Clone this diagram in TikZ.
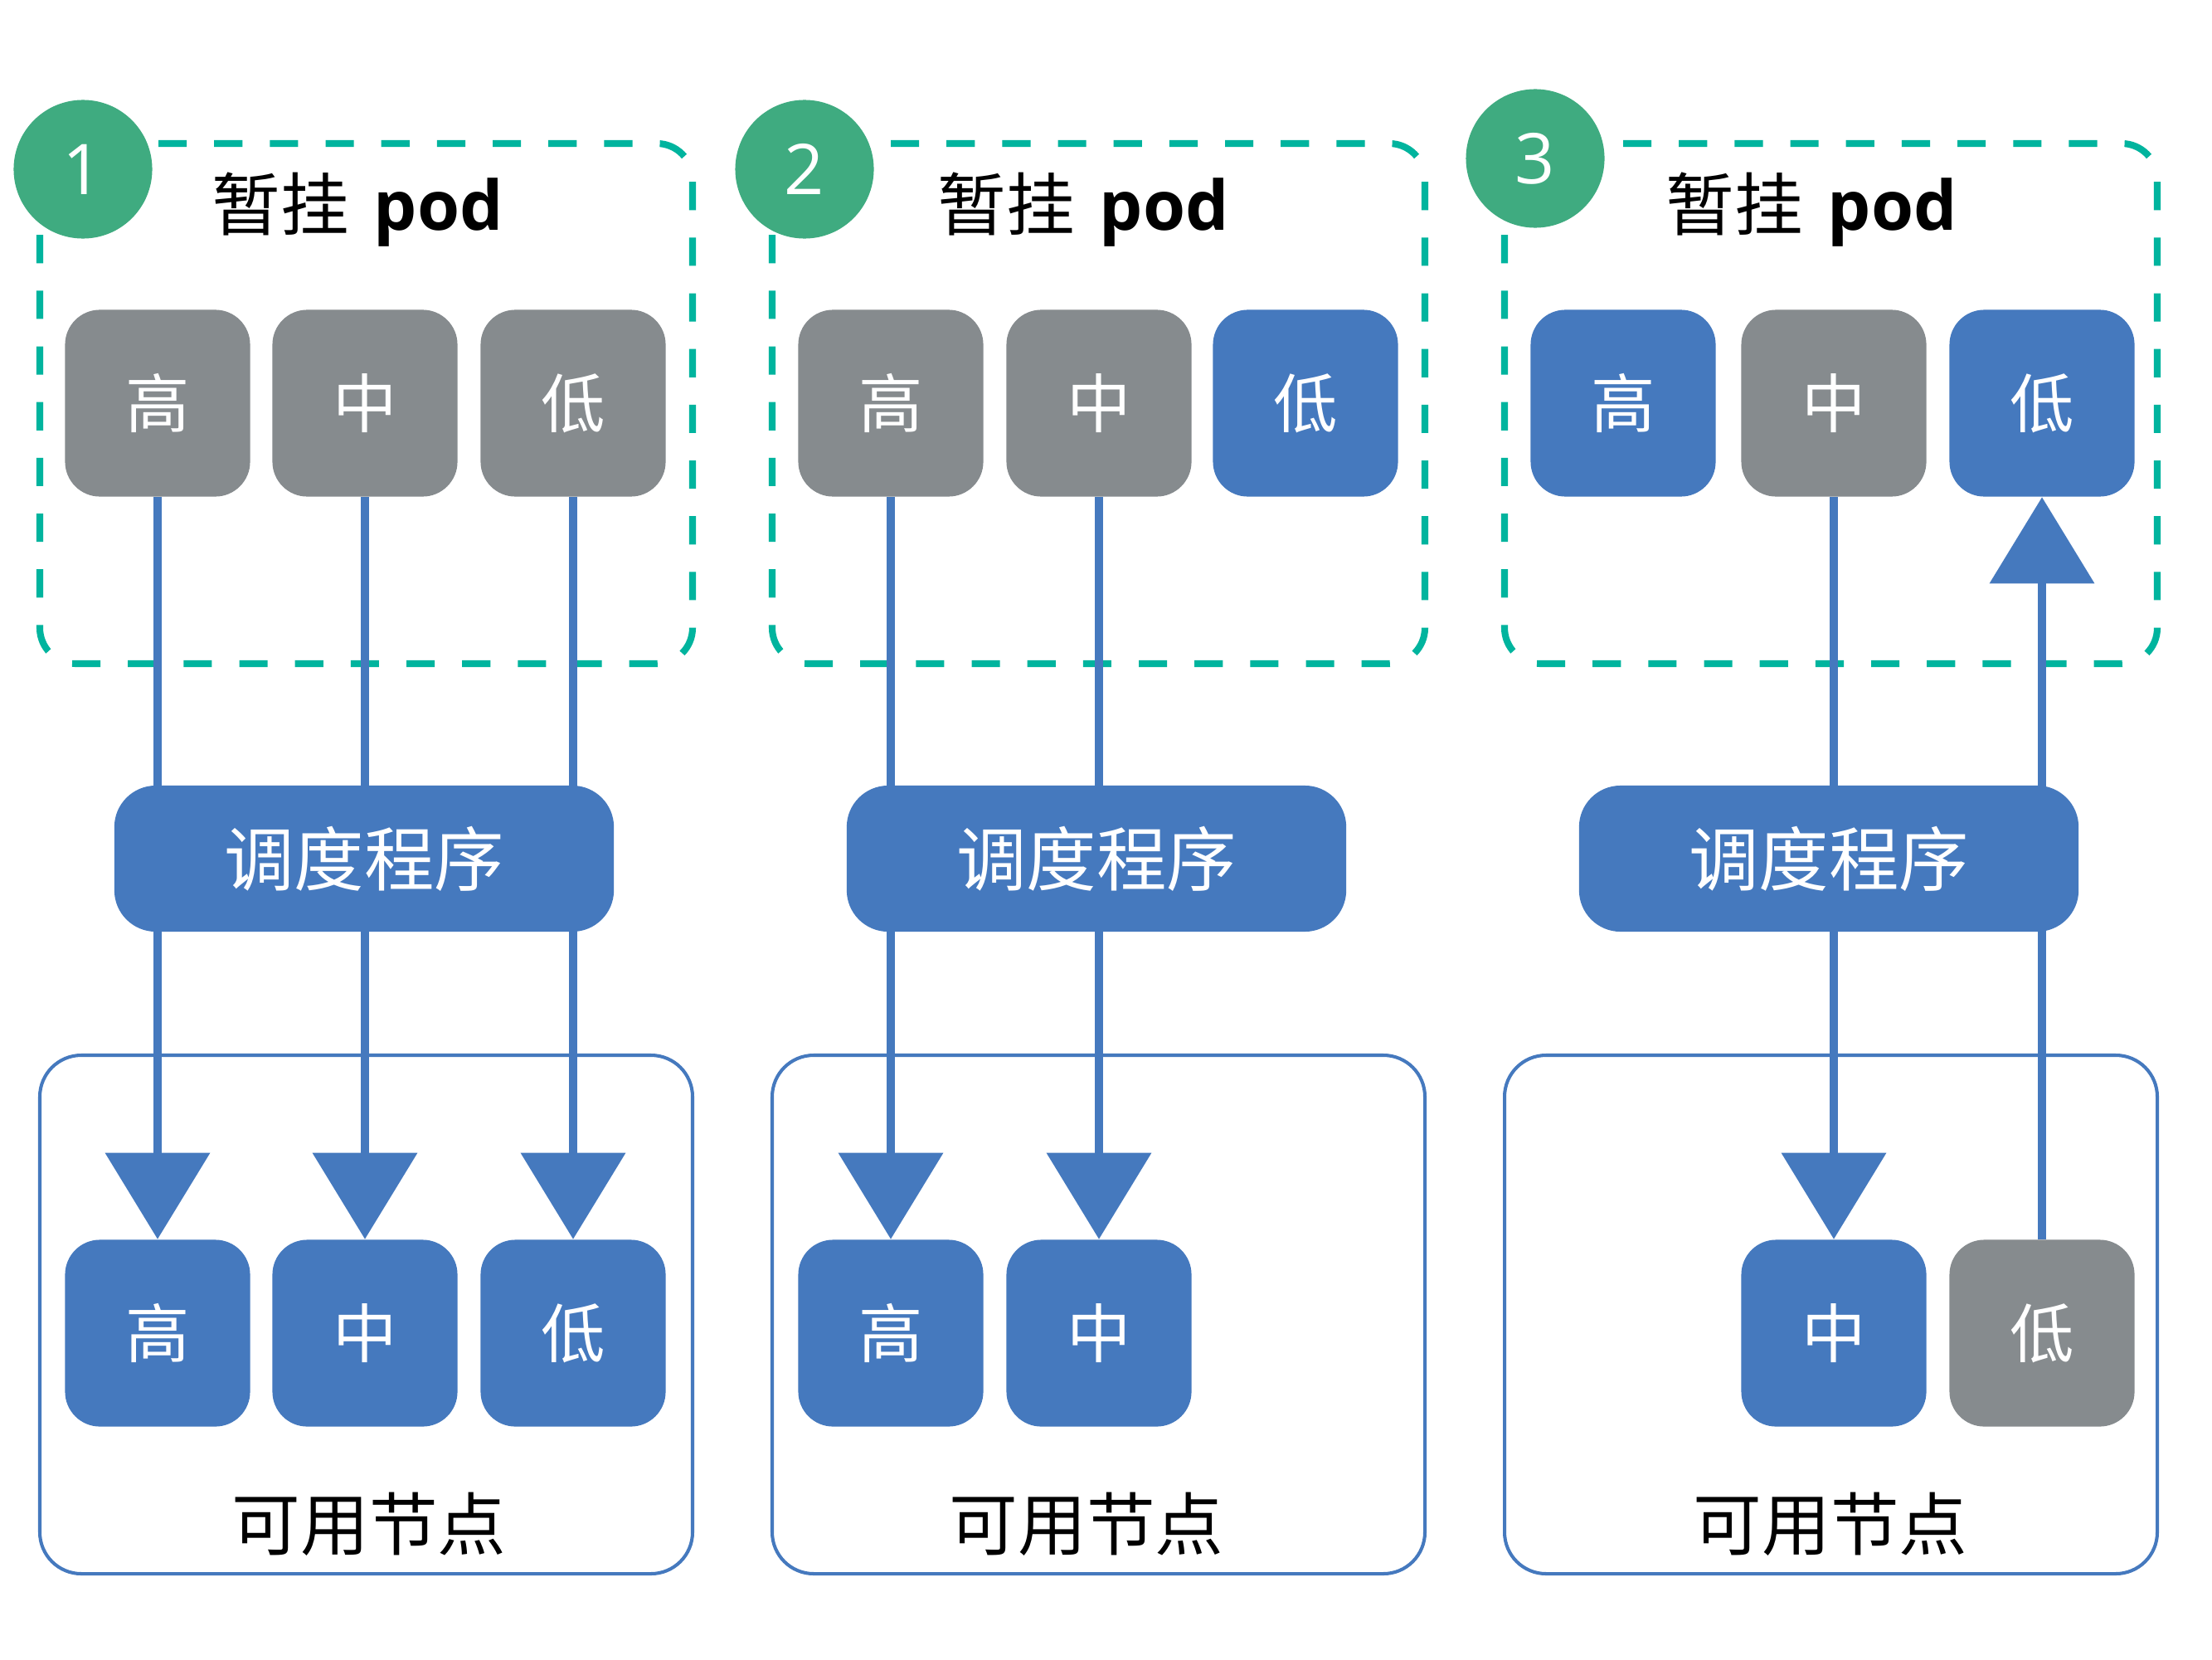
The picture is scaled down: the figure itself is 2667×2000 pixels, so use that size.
\documentclass[tikz,border=0pt]{standalone}
\usepackage{fontspec}
\setmainfont{Open Sans}
\newfontfamily\cjk{Noto Sans CJK SC}
\usetikzlibrary{arrows.meta}
\definecolor{podblue}{HTML}{4579BE}
\definecolor{podgray}{HTML}{868B8E}
\definecolor{badgegreen}{HTML}{3FAB80}
\definecolor{dashteal}{HTML}{00B49E}
\newcommand\mypodfont{\cjk\fontsize{22pt}{26pt}\selectfont}
\newcommand\myschedfont{\cjk\fontsize{24pt}{28pt}\selectfont}
\newcommand\mytitlefont{\fontsize{23.5pt}{28pt}\selectfont}
\newcommand\mynodesfont{\cjk\fontsize{23.5pt}{28pt}\selectfont}
\newcommand\mybadgefont{\fontsize{24pt}{28pt}\selectfont}
\begin{document}
\begin{tikzpicture}[x=0.01cm,y=-0.01cm,
  pod/.style={rounded corners=0.42cm, minimum width=2.23cm, minimum height=2.25cm, inner sep=0pt, text=white, font=\mypodfont},
  gpod/.style={pod, fill=podgray},
  bpod/.style={pod, fill=podblue},
  sched/.style={fill=podblue, rounded corners=0.5cm, minimum width=6.02cm, minimum height=1.76cm, inner sep=0pt, text=white, font=\myschedfont},
  pending/.style={draw=dashteal, line width=2.3pt, dash pattern=on 9.7pt off 9.4pt, rounded corners=0.43cm},
  nodesbox/.style={draw=podblue, line width=1.15pt, rounded corners=0.5cm},
  badge/.style={circle, fill=badgegreen, minimum size=1.67cm, inner sep=0pt, text=white, font=\mybadgefont},
  conn/.style={draw=podblue, line width=3.1pt},
  arr/.style={conn, -{Triangle[width=1.24cm,length=1.04cm]}},
  title/.style={anchor=base, font=\mytitlefont},
  nodeslabel/.style={font=\mynodesfont}
]
\useasboundingbox (0,0) rectangle (2667,2000);
\fill[white] (0,0) rectangle (2667,2000);

% containers
\draw[pending] (48,173) rectangle (835,800);
\draw[pending] (931,173) rectangle (1718,800);
\draw[pending] (1814,173) rectangle (2601,800);
\draw[nodesbox] (48,1272) rectangle (835,1897);
\draw[nodesbox] (931,1272) rectangle (1718,1897);
\draw[nodesbox] (1814,1272) rectangle (2601,1897);

% panel 1 pods
\node[gpod] (a1h) at (190,486) {高};
\node[gpod] (a1m) at (440,486) {中};
\node[gpod] (a1l) at (691,486) {低};
\node[bpod] (b1h) at (190,1607) {高};
\node[bpod] (b1m) at (440,1607) {中};
\node[bpod] (b1l) at (691,1607) {低};

% panel 2 pods
\node[gpod] (a2h) at (1074,486) {高};
\node[gpod] (a2m) at (1325,486) {中};
\node[bpod] (a2l) at (1574,486) {低};
\node[bpod] (b2h) at (1074,1607) {高};
\node[bpod] (b2m) at (1325,1607) {中};

% panel 3 pods
\node[bpod] (a3h) at (1957,486) {高};
\node[gpod] (a3m) at (2211,486) {中};
\node[bpod] (a3l) at (2462,486) {低};
\node[bpod] (b3m) at (2211,1607) {中};
\node[gpod] (b3l) at (2462,1607) {低};

% connectors
\draw[arr] (a1h.south) -- (b1h.north);
\draw[arr] (a1m.south) -- (b1m.north);
\draw[arr] (a1l.south) -- (b1l.north);
\draw[arr] (a2h.south) -- (b2h.north);
\draw[arr] (a2m.south) -- (b2m.north);
\draw[arr] (a3m.south) -- (b3m.north);
\draw[arr] (b3l.north) -- (a3l.south);

% schedulers
\node[sched] (s1) at (439,1035) {调度程序};
\node[sched] (s2) at (1322,1035) {调度程序};
\node[sched] (s3) at (2205,1035) {调度程序};

% badges
\node[badge] (c1) at (100,204) {1};
\node[badge] (c2) at (970,204) {2};
\node[badge] (c3) at (1851,191) {3};

% titles
\node[title] (t1) at (431,277) {{\cjk 暂挂}\hspace{0.3cm}\textbf{pod}};
\node[title] (t2) at (1306,277) {{\cjk 暂挂}\hspace{0.3cm}\textbf{pod}};
\node[title] (t3) at (2184,277) {{\cjk 暂挂}\hspace{0.3cm}\textbf{pod}};

% node labels
\node[nodeslabel] (n1) at (445,1837) {可用节点};
\node[nodeslabel] (n2) at (1310,1837) {可用节点};
\node[nodeslabel] (n3) at (2207,1837) {可用节点};
\end{tikzpicture}
\end{document}
